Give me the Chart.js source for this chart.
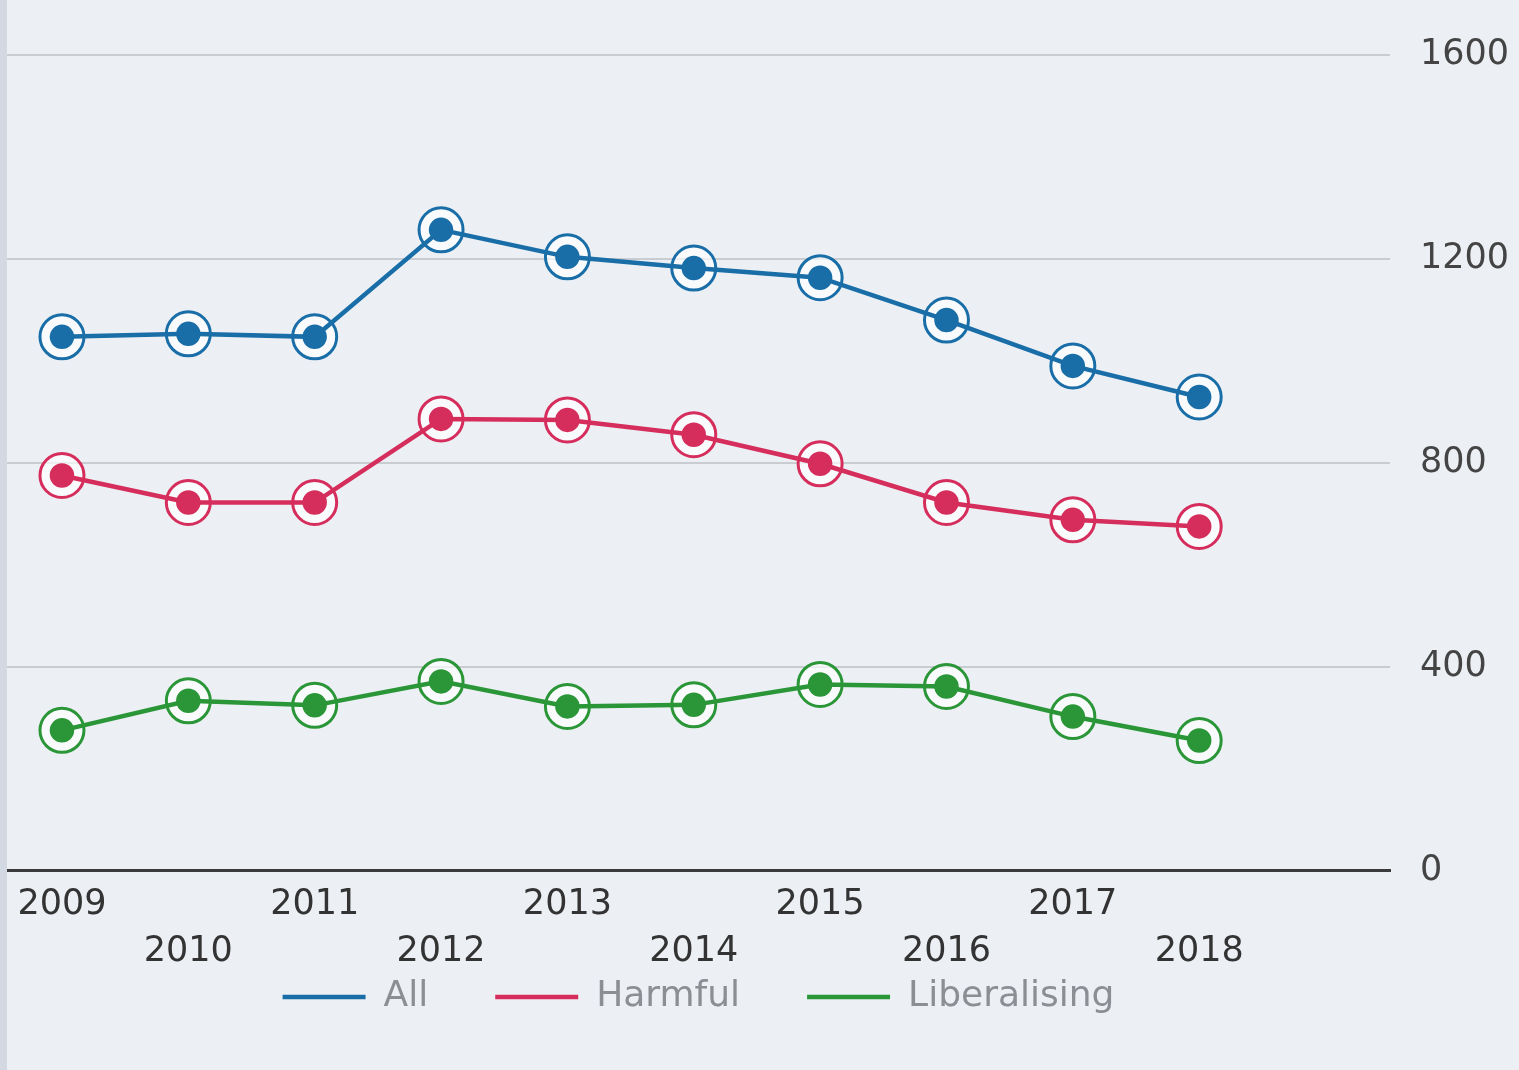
<!DOCTYPE html>
<html>
<head>
<meta charset="utf-8">
<script src="https://cdn.jsdelivr.net/npm/chart.js@4.4.1/dist/chart.umd.min.js"></script>
<style>
  html, body { margin: 0; padding: 0; background: #ecf0f5; }
  body { width: 1519px; height: 1070px; position: relative; overflow: hidden; }
  .edge { position: absolute; left: 0; top: 0; width: 7px; height: 1070px; background: #d3d9e2; }
  .wrap { position: absolute; left: 7px; top: 0; width: 1512px; height: 1070px; }
</style>
</head>
<body>
<div class="edge"></div>
<div class="wrap"><canvas id="chart"></canvas></div>
<script>
// data
const years = [2009, 2010, 2011, 2012, 2013, 2014, 2015, 2016, 2017, 2018];
const allVals = [1047, 1053, 1047, 1257, 1204, 1182, 1163, 1080, 990, 929];
const harmfulVals = [775, 722, 722, 886, 884, 855, 798, 722, 688, 675];
const liberalisingVals = [275, 333, 324, 371, 322, 325, 365, 361, 302, 255];
const yTicks = [0, 400, 800, 1200, 1600];

const series = [
    { label: 'All', values: allVals, color: 'rgb(26,110,168)' },
    { label: 'Harmful', values: harmfulVals, color: 'rgb(214,46,92)' },
    { label: 'Liberalising', values: liberalisingVals, color: 'rgb(42,150,56)' }
];

function pts(vals) {
    return years.map((yr, i) => ({ x: yr, y: vals[i] }));
}

// line + dot datasets (drawn on top)
const lineSets = series.map(s => ({
    label: s.label,
    data: pts(s.values),
    borderColor: s.color,
    backgroundColor: s.color,
    borderWidth: 4.5,
    pointRadius: 10,
    pointBorderWidth: 4.5,
    pointBorderColor: s.color,
    pointBackgroundColor: s.color,
    order: 1
}));

// outer rings (drawn underneath)
const ringSets = series.map(s => ({
    label: '',
    data: pts(s.values),
    showLine: false,
    pointRadius: 22,
    pointBorderWidth: 3,
    pointBorderColor: s.color,
    pointBackgroundColor: 'rgba(255,255,255,0.65)',
    order: 2
}));

// x labels run into the legend area, so don't clip them to the axis box
const noClip = {
    id: 'noClip',
    afterLayout(c) {
        c.scales.x._computeLabelArea = () => null;
    }
};

const ctx = document.getElementById('chart').getContext('2d');
const family = '"DejaVu Sans", sans-serif';

const chart = new Chart(ctx, {
    type: 'line',
    data: { datasets: lineSets.concat(ringSets) },
    plugins: [noClip],
    options: {
        responsive: true,
        maintainAspectRatio: false,
        animation: false,
        layout: { autoPadding: false, padding: { top: 55, bottom: 45, left: 0, right: 0 } },
        plugins: {
            tooltip: { enabled: false },
            legend: {
                position: 'bottom',
                fullSize: false,
                labels: {
                    filter: item => item.datasetIndex < 3,
                    usePointStyle: true,
                    pointStyle: 'line',
                    pointStyleWidth: 83,
                    padding: 67,
                    color: '#8b8e93',
                    font: { family: family, size: 36 }
                }
            }
        },
        scales: {
            x: {
                type: 'linear',
                min: 2008.565,
                max: 2019.51,
                grid: { display: false },
                border: { display: true, color: '#3a3a3a', width: 3 },
                afterBuildTicks: function (scale) {
                    scale.ticks = years.map(v => ({ value: v }));
                },
                ticks: {
                    autoSkip: false,
                    maxRotation: 0,
                    padding: 3,
                    color: '#333',
                    font: { family: family, size: 35, lineHeight: 1.35 },
                    callback: function (v) {
                        const i = years.indexOf(v);
                        if (i < 0) return '';
                        return i % 2 === 0 ? String(v) : ['', String(v)];
                    }
                },
                afterFit: function (scale) {
                    scale.height = 41.5;
                    scale.paddingLeft = 0;
                    scale.paddingRight = 0;
                }
            },
            y: {
                position: 'right',
                min: 0,
                max: 1600,
                border: { display: false },
                grid: {
                    drawTicks: false,
                    color: c => c.tick && c.tick.value === 0 ? 'rgba(0,0,0,0)' : '#c9ccd1',
                    lineWidth: 2
                },
                afterBuildTicks: function (scale) {
                    scale.ticks = yTicks.map(v => ({ value: v }));
                },
                ticks: {
                    padding: 30,
                    color: '#444',
                    font: { family: family, size: 35 },
                    callback: v => String(v)
                },
                afterFit: function (scale) { scale.width = 129; }
            }
        }
    }
});
</script>
</body>
</html>
